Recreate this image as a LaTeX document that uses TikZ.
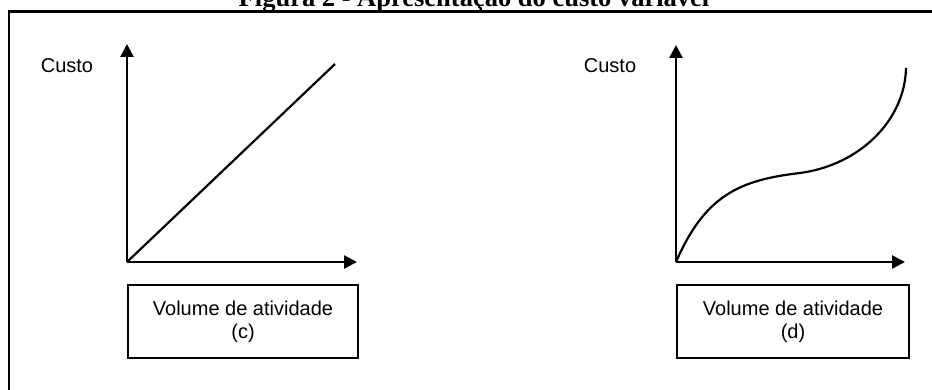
\documentclass[tikz,border=0pt]{standalone}
\usepackage{fontspec}
\setmainfont{Liberation Sans}
\newfontfamily\titlefont{Liberation Serif}
\usetikzlibrary{arrows.meta}

\begin{document}
\begin{tikzpicture}[x=0.5pt, y=-0.5pt,
    axis/.style={line width=1.3pt, -{Triangle[length=6.5pt, width=6.5pt]}},
    costline/.style={line width=1.1pt},
    labelbox/.style={draw, line width=1pt, anchor=north west, minimum height=36.5pt, align=center, font=\fontsize{10}{11.5}\selectfont},
    axislabel/.style={font=\fontsize{10}{12}\selectfont}]
    \path[use as bounding box, clip] (0,0) rectangle (932,390);

    % title and frame
    \node[anchor=base, font=\fontsize{13.25}{16}\titlefont\bfseries] (title) at (474,6.5) {Figura 2 - Apresentação do custo variável};
    \draw[line width=1.2pt] (9,11.5) rectangle (950,420);

    % graph (c): linear cost
    \coordinate (oc) at (127,262);
    \coordinate (yc) at (127,44);
    \coordinate (xc) at (357,262);
    \coordinate (ec) at (335,64);
    \draw[axis] (oc) -- (yc);
    \draw[axis] (oc) -- (xc);
    \draw[costline] (oc) -- (ec);
    \node[axislabel] (custoc) at (67,66) {Custo};
    \node[labelbox, minimum width=115pt] (volc) at (127,284) {Volume de atividade\\(c)};

    % graph (d): curved cost
    \coordinate (od) at (676,262);
    \coordinate (yd) at (676,45);
    \coordinate (xd) at (905,262);
    \coordinate (md) at (800,173);
    \coordinate (ed) at (906,68);
    \draw[axis] (od) -- (yd);
    \draw[axis] (od) -- (xd);
    \draw[costline] (od) .. controls (705,195) and (740,180) .. (md)
        .. controls (860,165) and (905,120) .. (ed);
    \node[axislabel] (custod) at (610,66) {Custo};
    \node[labelbox, minimum width=116pt] (vold) at (676,284) {Volume de atividade\\(d)};
\end{tikzpicture}
\end{document}
